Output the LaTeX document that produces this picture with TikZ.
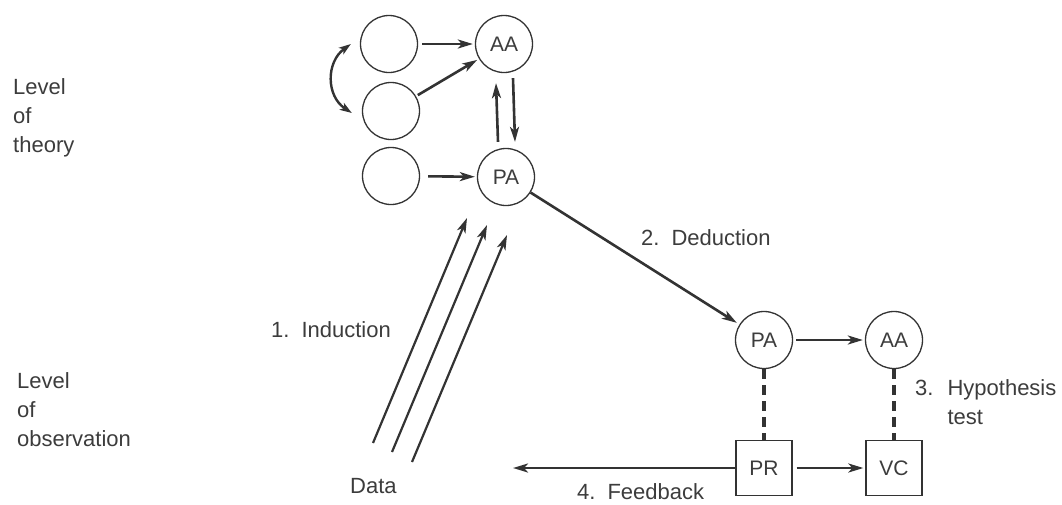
\documentclass[tikz,border=0pt]{standalone}
\usepackage{fontspec}
\setmainfont{Liberation Sans}
\usetikzlibrary{arrows.meta}
\definecolor{ink}{HTML}{333333}
\definecolor{txt}{HTML}{3C3C3C}
\begin{document}
\begin{tikzpicture}[x=1pt,y=-1pt,
  circ/.style={circle,draw=ink,line width=1.3pt,minimum size=57pt,inner sep=0pt,
    font=\fontsize{21}{21}\selectfont,text=txt},
  boxn/.style={rectangle,draw=ink,line width=1.3pt,minimum width=56pt,minimum height=55pt,
    inner sep=0pt,font=\fontsize{21}{21}\selectfont,text=txt},
  arr/.style={-{Stealth[length=15pt,width=9pt,inset=4pt]},line width=2.6pt,draw=ink},
  dashln/.style={line width=3.5pt,draw=ink,dash pattern=on 10pt off 6pt},
  lbl/.style={text=txt,font=\fontsize{22}{29}\selectfont,inner sep=0pt,anchor=base west}]
\useasboundingbox (0,0) rectangle (1062,504);

% theory level nodes
\node[circ] (t1) at (389,44) {};
\node[circ] (t2) at (391,111) {};
\node[circ] (t3) at (391,176) {};
\node[circ] (AAt) at (504,44) {AA};
\node[circ] (PAt) at (506,177) {PA};

% observation level nodes
\node[circ] (PAb) at (764,340) {PA};
\node[circ] (AAb) at (894,340) {AA};
\node[boxn] (PR) at (764,468) {PR};
\node[boxn] (VC) at (894,468) {VC};

% theory arrows
\draw[arr,shorten <=4pt,shorten >=2pt] (t1) -- (AAt);
\draw[arr,shorten <=2pt,shorten >=2pt] (t2) -- (AAt);
\draw[arr,shorten <=8pt,shorten >=2pt] (t3) -- (PAt);
\draw[arr] ([xshift=-8pt,yshift=6pt]PAt.north) -- ([xshift=-8pt,yshift=-10pt]AAt.south);
\draw[arr] ([xshift=9pt,yshift=-5pt]AAt.south) -- ([xshift=9pt,yshift=6pt]PAt.north);
\coordinate (cu1) at ([xshift=-9pt]t1.west);
\coordinate (cu2) at ([xshift=-10pt,yshift=-2pt]t2.west);
\draw[line width=2.4pt,draw=ink,{Stealth[length=12pt,width=8pt,inset=3pt]}-{Stealth[length=12pt,width=8pt,inset=3pt]}]
  (cu1) .. controls (326,62) and (326,96) .. (cu2);

% induction arrows
\coordinate (d1s) at (373,443); \coordinate (d1e) at (467,218);
\coordinate (d2s) at (392,452); \coordinate (d2e) at (487,225);
\coordinate (d3s) at (412,462); \coordinate (d3e) at (507,235);
\draw[arr,line width=2.2pt] (d1s) -- (d1e);
\draw[arr,line width=2.2pt] (d2s) -- (d2e);
\draw[arr,line width=2.2pt] (d3s) -- (d3e);

% deduction
\draw[arr,shorten >=3pt] (PAt) -- (PAb);
\draw[arr,shorten <=3pt,shorten >=2pt] (PAb) -- (AAb);

% hypothesis test
\draw[dashln] (PAb) -- (PR);
\draw[dashln] (AAb) -- (VC);
\draw[arr,shorten <=4pt,shorten >=2pt] (PR) -- (VC);

% feedback
\coordinate (fb) at (513,468);
\draw[arr] (PR.west) -- (fb);

% labels
\node[lbl] (ltheory) at (13,94) {\begin{tabular}[t]{@{}l@{}}Level\\of\\theory\end{tabular}};
\node[lbl] (lobs) at (17,388) {\begin{tabular}[t]{@{}l@{}}Level\\of\\observation\end{tabular}};
\node[lbl] (lind) at (271,337) {1.\hspace{12pt}Induction};
\node[lbl] (lded) at (641,245) {2.\hspace{12pt}Deduction};
\node[lbl] (lhyp) at (915,395) {\begin{tabular}[t]{@{}l@{\hspace{14pt}}l@{}}3.&Hypothesis\\&test\end{tabular}};
\node[lbl] (ldata) at (350,493) {Data};
\node[lbl] (lfb) at (577,499) {4.\hspace{12pt}Feedback};
\end{tikzpicture}
\end{document}
